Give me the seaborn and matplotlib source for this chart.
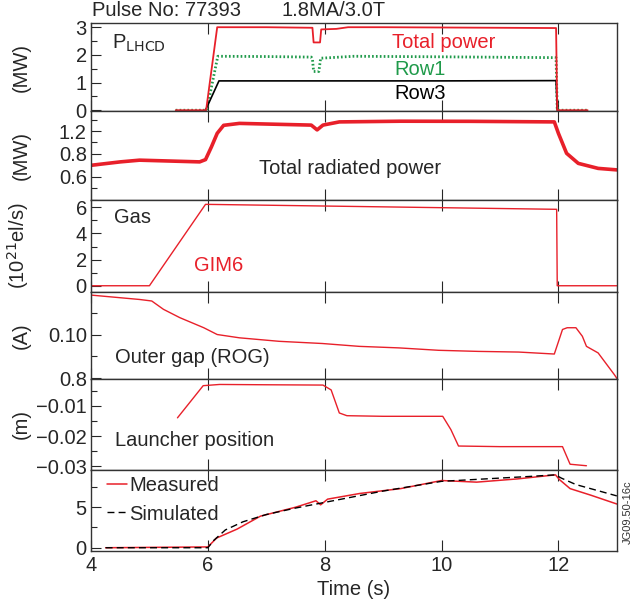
import numpy as np
import pandas as pd
import matplotlib
matplotlib.use("Agg")
import matplotlib.pyplot as plt
import seaborn as sns
from matplotlib.ticker import MultipleLocator

# ---- data ----
# P_LHCD (MW)
t_tot = [5.45, 5.97, 6.16, 6.5, 7.0, 7.79, 7.81, 7.92, 7.94, 8.2, 8.4, 9.0, 10.0, 11.0, 11.96, 11.98, 12.5]
p_tot = [0, 0, 3.0, 3.0, 3.0, 2.98, 2.45, 2.45, 2.92, 2.94, 3.0, 3.0, 2.99, 2.98, 2.97, 0, 0]
t_row1 = [5.45, 5.98, 6.17, 7.0, 7.77, 7.79, 7.81, 7.90, 7.93, 8.1, 8.5, 10.0, 11.96, 11.98, 12.5]
p_row1 = [0, 0, 1.95, 1.94, 1.92, 1.85, 1.40, 1.40, 1.88, 1.90, 1.95, 1.93, 1.90, 0, 0]
t_row3 = [5.96, 6.19, 8.0, 10.0, 11.96, 11.98]
p_row3 = [0, 1.06, 1.06, 1.06, 1.07, 0]

# total radiated power (axis units as drawn)
t_rad = [4.0, 4.5, 4.83, 5.86, 5.96, 6.06, 6.16, 6.27, 6.54, 7.77, 7.87, 7.97, 8.25, 9.3, 10.5, 11.93, 12.0, 12.14, 12.34, 12.68, 13.0]
p_rad = [0.70, 0.73, 0.745, 0.73, 0.75, 0.86, 0.98, 1.05, 1.067, 1.052, 1.01, 1.052, 1.08, 1.086, 1.085, 1.08, 0.98, 0.805, 0.717, 0.673, 0.66]

# gas GIM6 (1e21 el/s)
t_gas = [4.0, 5.0, 5.96, 11.97, 11.98, 13.0]
gas = [0, 0, 6.23, 5.85, 0, 0]

# outer gap ROG
t_rog = [4.0, 4.83, 5.04, 5.24, 5.52, 5.93, 6.16, 6.54, 7.22, 7.96, 8.59, 9.27, 9.95, 10.63, 11.32, 11.93,
         12.07, 12.15, 12.3, 12.41, 12.48, 12.68, 12.96, 13.0]
rog = [0.118, 0.116, 0.1153, 0.1115, 0.1077, 0.1031, 0.100, 0.0985, 0.0969, 0.0959, 0.0946, 0.0939, 0.0928,
       0.0923, 0.092, 0.0911, 0.1023, 0.1031, 0.1031, 0.0992, 0.0946, 0.0916, 0.0816, 0.080]

# launcher position (m)
t_lau = [5.48, 5.92, 6.2, 7.0, 7.97, 8.11, 8.25, 8.38, 9.0, 10.02, 10.16, 10.29, 11.0, 12.07, 12.2, 12.48]
lau = [-0.014, -0.0034, -0.003, -0.0031, -0.0032, -0.0048, -0.0124, -0.0133, -0.0135, -0.0135, -0.0179,
       -0.0233, -0.0235, -0.0235, -0.0293, -0.0298]

# bottom panel
t_meas = [4.25, 6.0, 6.15, 6.5, 6.9, 7.5, 7.85, 7.93, 8.05, 8.6, 9.3, 10.0, 10.3, 10.6, 11.3, 11.95, 12.02, 12.2, 12.55, 13.0]
meas = [0, 0.1, 1.2, 2.3, 3.9, 5.0, 5.8, 5.3, 6.0, 6.7, 7.3, 8.3, 8.2, 8.1, 8.5, 9.0, 8.4, 7.3, 6.5, 5.4]
t_sim = [4.25, 6.0, 6.1, 6.3, 6.6, 7.0, 7.5, 8.0, 8.5, 9.0, 9.5, 10.0, 10.5, 11.0, 11.5, 11.95, 12.05, 12.3, 12.6, 13.0]
sim = [0, 0, 0.9, 2.2, 3.2, 4.1, 4.9, 5.6, 6.3, 7.0, 7.6, 8.2, 8.4, 8.6, 8.8, 9.0, 8.6, 7.8, 7.2, 6.4]

RED = "#e8202a"
GREEN = "#1f9a4a"
FS = 14.5

sns.set_theme(style="ticks")
plt.rcParams['font.family'] = ['Liberation Sans', 'DejaVu Sans']
plt.rcParams.update({'font.size': FS, 'axes.labelsize': FS, 'legend.fontsize': FS,
                     'xtick.labelsize': FS, 'ytick.labelsize': FS,
                     'axes.edgecolor': '#333333', 'axes.linewidth': 1.0})

fig, axes = plt.subplots(6, 1, sharex=True, figsize=(6.32, 6.07), dpi=100,
                         gridspec_kw=dict(height_ratios=[88, 89, 92, 87, 91, 81], hspace=0))
fig.subplots_adjust(left=0.144, right=0.976, top=0.962, bottom=0.0923)

def line(ax, x, y, **kw):
    sns.lineplot(x=x, y=y, ax=ax, estimator=None, sort=False, **kw)

ax1, ax2, ax3, ax4, ax5, ax6 = axes

# panel 1
line(ax1, t_row1, p_row1, color=GREEN, linewidth=2.0, linestyle=(0, (0.6, 0.8)))
line(ax1, t_row3, p_row3, color='black', linewidth=1.2)
line(ax1, t_tot, p_tot, color=RED, linewidth=1.3)
ax1.set_ylim(-0.03, 3.15)
ax1.set_yticks([0, 1, 2, 3])
ax1.yaxis.set_minor_locator(MultipleLocator(0.5))
ax1.set_ylabel("(MW)")
ax1.text(0.04, 0.77, r"P$_{\rm LHCD}$", transform=ax1.transAxes, va='center')
ax1.text(0.572, 0.78, "Total power", color=RED, transform=ax1.transAxes, va='center')
ax1.text(0.576, 0.47, "Row1", color=GREEN, transform=ax1.transAxes, va='center')
ax1.text(0.576, 0.20, "Row3", color='black', transform=ax1.transAxes, va='center')

# panel 2
line(ax2, t_rad, p_rad, color=RED, linewidth=2.6)
ax2.set_ylim(0.396, 1.175)
ax2.set_yticks([0.6, 0.8, 1.0])
ax2.set_yticklabels(["0.6", "0.8", "1.2"])
ax2.yaxis.set_minor_locator(MultipleLocator(0.1))
ax2.set_ylabel("(MW)")
ax2.text(0.319, 0.35, "Total radiated power", transform=ax2.transAxes, va='center')

# panel 3
line(ax3, t_gas, gas, color=RED, linewidth=1.0)
ax3.set_ylim(-0.48, 6.56)
ax3.set_yticks([0, 2, 4, 6])
ax3.yaxis.set_minor_locator(MultipleLocator(1))
ax3.set_ylabel("(10$^{21}$el/s)")
ax3.text(0.044, 0.815, "Gas", transform=ax3.transAxes, va='center')
ax3.text(0.196, 0.29, "GIM6", color=RED, transform=ax3.transAxes, va='center')

# panel 4
line(ax4, t_rog, rog, color=RED, linewidth=1.0)
ax4.set_ylim(0.0797, 0.1194)
ax4.set_yticks([0.08, 0.10])
ax4.set_yticklabels(["0.8", "0.10"])
ax4.yaxis.set_minor_locator(MultipleLocator(0.01))
ax4.set_ylabel("(A)")
ax4.text(0.046, 0.25, "Outer gap (ROG)", transform=ax4.transAxes, va='center')

# panel 5
line(ax5, t_lau, lau, color=RED, linewidth=1.0)
ax5.set_ylim(-0.0312, -0.0012)
ax5.set_yticks([-0.03, -0.02, -0.01])
ax5.set_yticklabels(["\u22120.03", "\u22120.02", "\u22120.01"])
ax5.yaxis.set_minor_locator(MultipleLocator(0.005))
ax5.set_ylabel("(m)")
ax5.text(0.046, 0.32, "Launcher position", transform=ax5.transAxes, va='center')

# panel 6
line(ax6, t_meas, meas, color=RED, linewidth=1.1, label="Measured")
line(ax6, t_sim, sim, color='black', linewidth=1.0, linestyle=(0, (5, 3)), label="Simulated")
ax6.set_ylim(-0.4, 9.6)
ax6.set_yticks([0, 5])
ax6.yaxis.set_minor_locator(MultipleLocator(2.5))
ax6.set_ylabel("")
ax6.legend(loc='upper left', frameon=False, handlelength=1.0, handletextpad=0.1,
           borderaxespad=0.0, borderpad=0.0, labelspacing=0.45, bbox_to_anchor=(0.03, 0.92))

ax6.set_xlim(4, 13)
ax6.set_xticks([4, 6, 8, 10, 12])
ax6.set_xlabel("Time (s)", labelpad=4)

for ax in axes:
    ax.tick_params(axis='x', which='major', direction='in', top=True, bottom=True, length=8, width=0.8)
    ax.tick_params(axis='y', which='major', direction='in', length=7, width=0.8, pad=3)
    ax.tick_params(axis='y', which='minor', direction='in', length=4, width=0.8, left=True)
    ax.yaxis.set_label_coords(-0.115, 0.5)
    for s in ax.spines.values():
        s.set_visible(True)

fig.text(0.145, 0.982, "Pulse No: 77393", va='center', ha='left', fontsize=FS)
fig.text(0.446, 0.982, "1.8MA/3.0T", va='center', ha='left', fontsize=FS)
fig.text(0.993, 0.157, "JG09.50-16c", rotation=90, va='center', ha='center', fontsize=8, color='#333333')

fig.savefig("out.png", dpi=100)
